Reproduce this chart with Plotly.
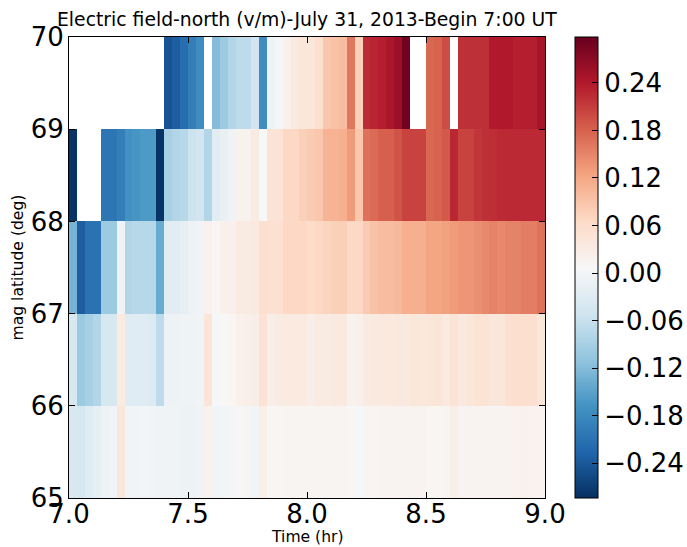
import plotly.graph_objects as go

_ = None
lat_edges = [65, 66, 67, 68, 69, 70]
time_start = 7.0
minutes_per_column = 2
tick_x = [7.0, 7.5, 8.0, 8.5, 9.0]
tick_y = [65, 66, 67, 68, 69, 70]
tick_cb = [-0.24, -0.18, -0.12, -0.06, 0.0, 0.06, 0.12, 0.18, 0.24]

lat_65_66 = [-.04,-.04,-.03,-.02,-.008,-.004,.04,-.002,-.002,-.001,-.004,-.006,-.006,-.006,-.009,-.009,
             -.006,.02,-.004,-.001,.002,.005,.011,-.004,.024,.012,.012,.014,.014,.013,
             .014,.014,.014,.014,.014,.01,.004,.014,.014,.016,.016,.016,.015,.015,.015,.012,.012,.014,.024,.015,
             .015,.015,.015,.015,.015,.016,.02,.02,.015,.015]
lat_66_67 = [-.04,-.10,-.09,-.08,-.04,-.04,.035,-.03,-.03,-.03,-.035,-.07,-.01,-.008,-.006,-.006,-.004,.045,.004,.008,
             .012,.022,.024,.027,.05,.027,.032,.032,.035,.035,
             .027,.032,.032,.037,.037,.017,.022,.032,.037,.037,.037,.039,.037,.042,.039,.042,.045,.037,.047,.037,
             .042,.047,.047,.04,.04,.052,.057,.057,.057,.042]
lat_67_68 = [-.13,-.235,-.21,-.21,-.10,-.10,-.005,-.08,-.075,-.075,-.075,-.14,-.025,-.025,-.018,-.008,-.004,.019,.012,.022,
             .022,.032,.032,.037,.057,.052,.052,.067,.067,.067,
             .062,.067,.072,.077,.077,.067,.067,.082,.092,.097,.097,.102,.112,.112,.112,.122,.122,.127,.132,.137,
             .137,.142,.147,.152,.147,.152,.152,.157,.157,.167]
lat_68_69 = [-.28,_,_,_,-.205,-.205,-.195,-.17,-.165,-.16,-.16,-.28,-.09,-.08,-.075,-.055,-.05,-.08,-.025,-.015,
             -.005,.017,.017,.032,.006,.047,.047,.067,.067,.077,
             .082,.087,.107,.107,.112,.132,.087,.167,.172,.182,.182,.192,.205,.205,.205,.175,.18,.187,.228,.205,
             .205,.215,.22,.222,.225,.225,.225,.225,.225,.225]
lat_69_70 = [_,_,_,_,_,_,_,_,_,_,_,_,-.245,-.235,-.215,-.195,-.175,_,-.12,-.10,
             -.08,-.07,-.07,-.05,-.175,-.008,.002,.022,.037,.042,
             .042,.057,.087,.092,.097,.162,.077,.225,.23,.235,.245,.258,.29,_,_,.175,.18,.197,_,.22,
             .22,.22,.22,.24,.24,.24,.235,.235,.235,.25]

rdbu_r = ['#053061','#2166ac','#4393c3','#92c5de','#d1e5f0','#f7f7f7','#fddbc7','#f4a582','#d6604d','#b2182b','#67001f']
colorscale = [[i / 10, c] for i, c in enumerate(rdbu_r)]

time_edges = [time_start + i * minutes_per_column / 60 for i in range(61)]
z = [lat_65_66, lat_66_67, lat_67_68, lat_68_69, lat_69_70]

FONT = "DejaVu Sans"
fig = go.Figure(go.Heatmap(
    x=time_edges, y=lat_edges, z=z,
    colorscale=colorscale, zmin=-0.284, zmax=0.298, hoverongaps=False,
    colorbar=dict(
        xref="container", x=575/687, xanchor="left", y=0.5, yanchor="middle", len=1, lenmode="fraction",
        thickness=23, thicknessmode="pixels", xpad=0, ypad=0,
        tickvals=tick_cb, ticktext=["\u22120.24","\u22120.18","\u22120.12","\u22120.06","0.00","0.06","0.12","0.18","0.24"],
        ticks="inside", ticklen=6, tickcolor="#000", tickwidth=1,
        tickfont=dict(family=FONT, size=26, color="#000"),
        outlinecolor="#000", outlinewidth=1,
    ),
))
axis = dict(showgrid=False, zeroline=False, showline=True, linecolor="#000", linewidth=1, mirror="allticks",
            ticks="inside", ticklen=6, tickcolor="#000", tickwidth=1,
            tickfont=dict(family=FONT, size=26, color="#000"))
fig.update_layout(
    width=687, height=547, autosize=False,
    margin=dict(l=69, r=142, t=37, b=49, pad=0, autoexpand=False),
    paper_bgcolor="#fff", plot_bgcolor="#fff",
    font=dict(family=FONT, color="#000"),
    xaxis=dict(axis, range=[7, 9], tickvals=tick_x, ticktext=["7.0","7.5","8.0","8.5","9.0"], ticklabelstandoff=-7),
    yaxis=dict(axis, range=[65, 70], tickvals=tick_y, ticktext=[str(v) for v in tick_y], ticklabelstandoff=-1),
    annotations=[
        dict(text="Electric field-north (v/m)-July 31, 2013-Begin 7:00 UT", xref="paper", yref="paper", x=0.5, y=1,
             yshift=18, xanchor="center", yanchor="middle", showarrow=False, font=dict(family=FONT, size=18.8, color="#000")),
        dict(text="Time (hr)", xref="paper", yref="paper", x=0.5, y=0, yshift=-39, xanchor="center", yanchor="middle",
             showarrow=False, font=dict(family=FONT, size=15.6, color="#000")),
        dict(text="mag latitude (deg)", xref="paper", yref="paper", x=0, xshift=-52, y=0.5, textangle=-90,
             xanchor="center", yanchor="middle", showarrow=False, font=dict(family=FONT, size=15.6, color="#000")),
    ],
)
fig.write_html("out.html", config={"displayModeBar": False},
               post_script="document.body.style.margin='0';document.documentElement.style.overflow='hidden';")
